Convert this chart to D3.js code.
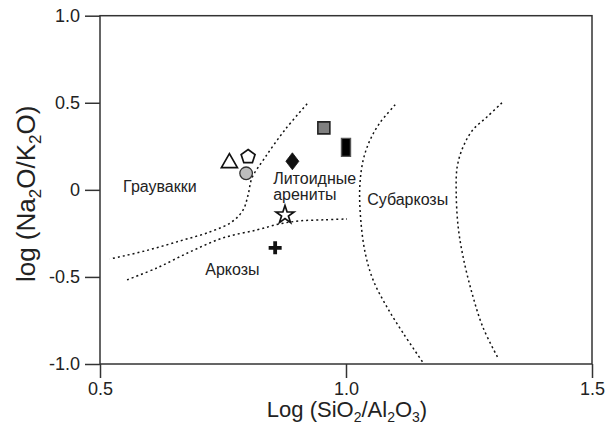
<!DOCTYPE html>
<html>
<head>
<meta charset="utf-8">
<script src="https://cdn.jsdelivr.net/npm/d3@7"></script>
<style>
  html, body { margin: 0; padding: 0; background: #fff; }
  svg { display: block; font-family: "Liberation Sans", Arial, sans-serif; }
</style>
</head>
<body>
<svg id="chart" width="612" height="436"></svg>
<script>
// ---- data ----
const xTicks = [0.5, 1.0, 1.5];
const xTickLabels = ["0.5", "1.0", "1.5"];
const yTicks = [1.0, 0.5, 0, -0.5, -1.0];
const yTickLabels = ["1.0", "0.5", "0", "-0.5", "-1.0"];

// field boundaries [log(SiO2/Al2O3), log(Na2O/K2O)]
const boundaryGraywacke = [[0.921,0.494],[0.876,0.345],[0.835,0.184],[0.809,0.069],[0.801,-0.029],[0.791,-0.115],[0.768,-0.184],[0.724,-0.241],[0.663,-0.293],[0.591,-0.351],[0.520,-0.397]];
const boundaryArkose = [[0.555,-0.517],[0.616,-0.448],[0.683,-0.356],[0.750,-0.276],[0.819,-0.230],[0.866,-0.195],[0.907,-0.178],[0.957,-0.172],[1.002,-0.167]];
const boundaryLitharenite = [[1.100,0.489],[1.069,0.385],[1.049,0.287],[1.035,0.172],[1.028,0.017],[1.030,-0.172],[1.039,-0.362],[1.055,-0.517],[1.083,-0.672],[1.116,-0.822],[1.157,-0.994]];
const boundarySubarkose = [[1.317,0.500],[1.287,0.420],[1.258,0.345],[1.238,0.247],[1.226,0.132],[1.224,-0.017],[1.228,-0.213],[1.238,-0.385],[1.256,-0.592],[1.278,-0.787],[1.309,-0.966]];

// samples
const sampleShapes = ["triangle", "pentagon", "circle", "diamond", "square", "rect", "star", "plus"];
const sampleX = [0.763, 0.801, 0.797, 0.891, 0.955, 1.000, 0.876, 0.856];
const sampleY = [0.162, 0.190, 0.095, 0.164, 0.356, 0.244, -0.144, -0.333];

// field names
const fieldNames = ["Граувакки", "Литоидные", "арениты", "Субаркозы", "Аркозы"];
const fieldX = [0.547, 0.852, 0.852, 1.043, 0.714];
const fieldY = [-0.012, 0.034, -0.058, -0.086, -0.489];

// ---- drawing ----
const svg = d3.select("#chart");
const x = d3.scaleLinear().domain([0.5, 1.5]).range([100, 592]);
const y = d3.scaleLinear().domain([-1, 1]).range([364, 15.7]);
const axisColor = "#333";

// boundaries
const line = d3.line().x(d => x(d[0])).y(d => y(d[1])).curve(d3.curveCatmullRom.alpha(0.5));
[boundaryGraywacke, boundaryArkose, boundaryLitharenite, boundarySubarkose].forEach(b => {
  svg.append("path").attr("d", line(b))
    .attr("fill", "none").attr("stroke", "#111").attr("stroke-width", 1.5)
    .attr("stroke-dasharray", "2,3");
});

// frame
svg.append("rect").attr("x", x(0.5)).attr("y", y(1)).attr("width", x(1.5) - x(0.5)).attr("height", y(-1) - y(1))
  .attr("fill", "none").attr("stroke", axisColor).attr("stroke-width", 1.5);

// axes
const xAxis = d3.axisBottom(x).tickValues(xTicks).tickSize(14).tickPadding(4)
  .tickFormat((d, i) => xTickLabels[i]);
const gx = svg.append("g").attr("transform", `translate(0,${y(-1)})`).call(xAxis);
const yAxis = d3.axisLeft(y).tickValues(yTicks).tickSize(15).tickPadding(5)
  .tickFormat((d, i) => yTickLabels[i]);
const gy = svg.append("g").attr("transform", `translate(${x(0.5)},0)`).call(yAxis);
[gx, gy].forEach(g => {
  g.select(".domain").remove();
  g.selectAll(".tick line").attr("stroke", axisColor).attr("stroke-width", 1.5);
  g.selectAll(".tick text").attr("fill", "#222").attr("font-size", 18)
    .attr("font-family", "Liberation Sans, Arial, sans-serif");
});

// axis titles
const xt = svg.append("text").attr("x", 347).attr("y", 417).attr("text-anchor", "middle")
  .attr("font-size", 22).attr("fill", "#222");
xt.append("tspan").text("Log (SiO");
xt.append("tspan").text("2").attr("font-size", 14).attr("dy", 5);
xt.append("tspan").text("/Al").attr("dy", -5);
xt.append("tspan").text("2").attr("font-size", 14).attr("dy", 5);
xt.append("tspan").text("O").attr("dy", -5);
xt.append("tspan").text("3").attr("font-size", 14).attr("dy", 5);
xt.append("tspan").text(")").attr("dy", -5);

const yt = svg.append("text").attr("transform", `translate(35,0) rotate(-90)`)
  .attr("text-anchor", "start").attr("font-size", 26).attr("fill", "#222");
yt.append("tspan").text("log (Na");
yt.append("tspan").text("2").attr("font-size", 17).attr("dy", 6);
yt.append("tspan").text("O/K").attr("dy", -6);
yt.append("tspan").text("2").attr("font-size", 17).attr("dy", 6);
yt.append("tspan").text("O)").attr("dy", -6);
const ytLen = yt.node().getComputedTextLength();
yt.attr("x", -(y(0) + 4) - ytLen / 2);

// field labels
svg.selectAll("text.field").data(fieldNames).join("text").attr("class", "field")
  .attr("x", (d, i) => x(fieldX[i])).attr("y", (d, i) => y(fieldY[i]))
  .attr("font-size", 16).attr("fill", "#222").text(d => d);

// markers
function pentagonPath(r) {
  const pts = d3.range(5).map(k => {
    const a = -Math.PI / 2 + k * 2 * Math.PI / 5;
    return [r * Math.cos(a), r * Math.sin(a)];
  });
  return "M" + pts.map(p => p.join(",")).join("L") + "Z";
}
const g = svg.append("g");
sampleShapes.forEach((s, i) => {
  const cx = x(sampleX[i]), cy = y(sampleY[i]);
  const el = g.append("path").attr("transform", `translate(${cx},${cy})`);
  if (s === "triangle") {
    el.attr("d", "M0,-8L8,6L-8,6Z")
      .attr("fill", "#fff").attr("stroke", "#111").attr("stroke-width", 1.7);
  } else if (s === "pentagon") {
    el.attr("d", pentagonPath(7.3)).attr("fill", "#fff").attr("stroke", "#111").attr("stroke-width", 1.7);
  } else if (s === "circle") {
    el.attr("d", d3.symbol(d3.symbolCircle, 125)()).attr("fill", "#bdbdbd").attr("stroke", "#333").attr("stroke-width", 1.3);
  } else if (s === "diamond") {
    el.attr("d", "M0,-8.5L6.5,0L0,8.5L-6.5,0Z").attr("fill", "#111").attr("stroke", "#111").attr("stroke-width", 0.8);
  } else if (s === "square") {
    el.attr("d", "M-6,-6H6V6H-6Z").attr("fill", "#7f7f7f").attr("stroke", "#222").attr("stroke-width", 1.6);
  } else if (s === "rect") {
    el.attr("d", "M-4.5,-9H4.5V9H-4.5Z").attr("fill", "#000").attr("stroke", "#555").attr("stroke-width", 1.4);
  } else if (s === "star") {
    el.attr("d", d3.symbol(d3.symbolStar, 100)()).attr("fill", "#fff").attr("stroke", "#111").attr("stroke-width", 1.7);
  } else if (s === "plus") {
    el.attr("d", "M-1.9,-6.5H1.9V-1.9H6.5V1.9H1.9V6.5H-1.9V1.9H-6.5V-1.9H-1.9Z").attr("fill", "#111");
  }
});
</script>
</body>
</html>
